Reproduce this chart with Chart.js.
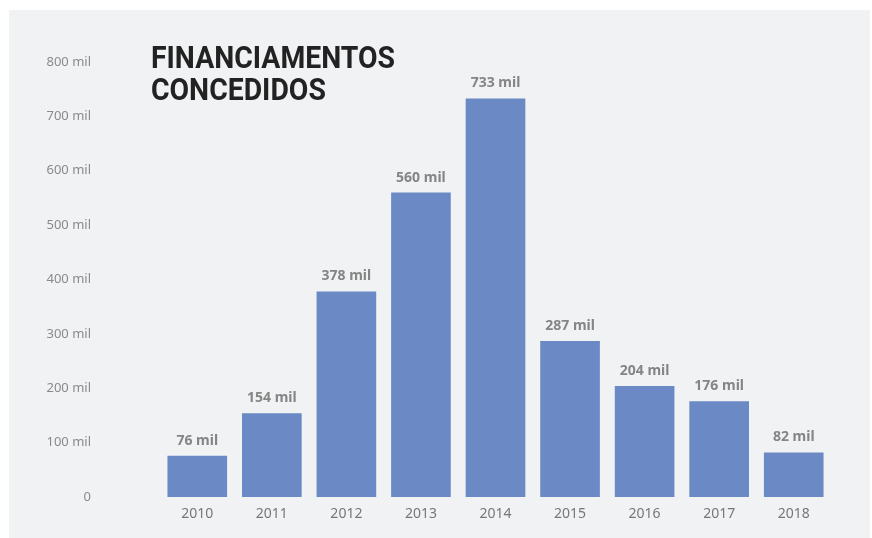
<!DOCTYPE html>
<html>
<head>
<meta charset="utf-8">
<script src="https://cdn.jsdelivr.net/npm/chart.js@4"></script>
<style>
  html, body { margin: 0; padding: 0; background: #fff; }
  canvas { display: block; }
</style>
</head>
<body>
<canvas id="myChart" width="872" height="538"></canvas>
<script>
let years = ['2010', '2011', '2012', '2013', '2014', '2015', '2016', '2017', '2018'];
let financiamentos = [76, 154, 378, 560, 733, 287, 204, 176, 82]; // em mil
let yTicks = [0, 100, 200, 300, 400, 500, 600, 700, 800];
let titleLines = ['FINANCIAMENTOS', 'CONCEDIDOS'];

let barColor = '#6a89c5';
let bgColor = '#f1f2f4';

// gray panel behind the chart
let panelPlugin = {
  id: 'panel',
  beforeDraw(chart) {
    let c = chart.ctx;
    c.save();
    c.fillStyle = bgColor;
    c.fillRect(9, 10, 861, 528);
    c.restore();
  }
};

// title + value labels on top
let textPlugin = {
  id: 'texts',
  afterDatasetsDraw(chart) {
    let c = chart.ctx;
    c.save();
    c.fillStyle = '#222';
    c.font = "bold 31px Roboto, 'DejaVu Sans', sans-serif";
    c.textAlign = 'left';
    c.textBaseline = 'alphabetic';
    // condensed look: squeeze first line to ~244px, second by same ratio
    let ratio = 244 / c.measureText(titleLines[0]).width;
    titleLines.forEach((t, i) => {
      c.fillText(t, 151, 68 + i * 32, c.measureText(t).width * ratio);
    });

    c.fillStyle = '#858585';
    c.font = "bold 14px 'Noto Sans', sans-serif";
    c.textAlign = 'center';
    let meta = chart.getDatasetMeta(0);
    meta.data.forEach((bar, i) => {
      c.fillText(financiamentos[i] + ' mil', bar.x, bar.y - 11);
    });
    c.restore();
  }
};

let ctx = document.getElementById('myChart').getContext('2d');
let myChart = new Chart(ctx, {
  type: 'bar',
  data: {
    labels: years,
    datasets: [{
      data: financiamentos,
      backgroundColor: barColor,
      barPercentage: 0.8,
      categoryPercentage: 1
    }]
  },
  options: {
    responsive: false,
    animation: false,
    layout: { padding: { top: 62, right: 41, left: 0, bottom: 0 } },
    plugins: {
      legend: { display: false },
      tooltip: { enabled: false }
    },
    scales: {
      x: {
        grid: { display: false, drawTicks: false },
        border: { display: false },
        ticks: {
          color: '#777',
          font: { family: "'Noto Sans', sans-serif", size: 14 },
          padding: 9
        },
        afterFit(scale) { scale.height = 41; }
      },
      y: {
        min: 0,
        max: 800,
        grid: { display: false, drawTicks: false },
        border: { display: false },
        afterBuildTicks(scale) { scale.ticks = yTicks.map(v => ({ value: v })); },
        ticks: {
          color: '#8a8a8a',
          font: { family: "'Noto Sans', sans-serif", size: 13 },
          padding: 69,
          callback: v => v === 0 ? '0' : v + ' mil'
        },
        afterFit(scale) {
          scale.width = 160;
          scale.paddingTop = 0;
          scale.paddingBottom = 0;
        }
      }
    }
  },
  plugins: [panelPlugin, textPlugin]
});
</script>
</body>
</html>
